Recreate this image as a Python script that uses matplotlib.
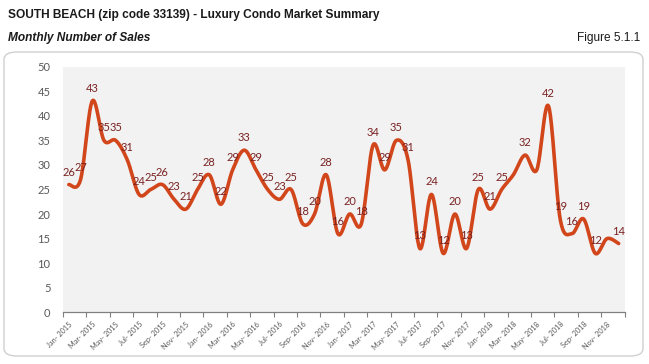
import numpy as np
import matplotlib
matplotlib.use("Agg")
import matplotlib.pyplot as plt
from matplotlib.patches import FancyBboxPatch

# ---- data ----
months = ["Jan", "Feb", "Mar", "Apr", "May", "Jun", "Jul", "Aug", "Sep", "Oct", "Nov", "Dec"]
years = [2015, 2016, 2017, 2018]
sales = [26, 27, 43, 35, 35, 31, 24, 25, 26, 23, 21, 25,
         28, 22, 29, 33, 29, 25, 23, 25, 18, 20, 28, 16,
         20, 18, 34, 29, 35, 31, 13, 24, 12, 20, 13, 25,
         21, 25, 28, 32, 29, 42, 19, 16, 19, 12, 15, 14]
hidden_labels = [38, 40, 46]
yticks = [0, 5, 10, 15, 20, 25, 30, 35, 40, 45, 50]

categories = [f"{m}- {y}" for y in years for m in months]

LINE = "#d2461c"
LBL = "#7a2222"
GRAY = "#595959"
TFONT = ["Liberation Sans", "DejaVu Sans"]

fig = plt.figure(figsize=(6.49, 3.64), dpi=100)
W, H = 649, 364

# outer rounded frame
frame = FancyBboxPatch((4 / W, 8 / H), 639 / W, 304 / H,
                       boxstyle="round,pad=0,rounding_size=0.02",
                       transform=fig.transFigure, facecolor="white",
                       edgecolor="#d0d0d0", linewidth=1.0, zorder=-5)
fig.patches.append(frame)

fig.text(8 / W, 1 - 15 / H, "SOUTH BEACH (zip code 33139) - Luxury Condo Market Summary",
         family=TFONT, fontweight="bold", fontstretch="condensed",
         fontsize=8.6, va="center", ha="left", color="#1a1a1a")
fig.text(8 / W, 1 - 38 / H, "Monthly Number of Sales",
         family=TFONT, fontweight="bold",
         fontstyle="italic", fontsize=8.6, va="center", ha="left", color="#1a1a1a")
fig.text(640 / W, 1 - 38 / H, "Figure 5.1.1",
         family=TFONT, fontsize=8.6, va="center", ha="right", color="#1a1a1a")

ax = fig.add_axes([63 / W, 1 - 312.3 / H, 561.5 / W, 245.6 / H], zorder=2)
ax.set_facecolor("#f2f2f2")

n = len(sales)
x = np.arange(n, dtype=float)
y = np.array(sales, dtype=float)

# Catmull-Rom style smoothing (visual only, passes through all data points)
P = np.column_stack([x, y])
Pext = np.vstack([P[0], P, P[-1]])
curve = []
for i in range(n - 1):
    p0, p1, p2, p3 = Pext[i], Pext[i + 1], Pext[i + 2], Pext[i + 3]
    c1 = p1 + (p2 - p0) / 6.0
    c2 = p2 - (p3 - p1) / 6.0
    t = np.linspace(0, 1, 25)[:, None]
    seg = ((1 - t) ** 3) * p1 + 3 * ((1 - t) ** 2) * t * c1 + 3 * (1 - t) * t ** 2 * c2 + t ** 3 * p2
    curve.append(seg if i == 0 else seg[1:])
curve = np.vstack(curve)
ax.plot(curve[:, 0], curve[:, 1], color=LINE, linewidth=2.6, solid_capstyle="round", zorder=3)

for i, v in enumerate(sales):
    if i in hidden_labels:
        continue
    ax.annotate(str(v), (x[i], v), xytext=(0, 5), textcoords="offset points",
                ha="center", va="bottom", fontsize=8, color=LBL,
                family=["Lato", "DejaVu Sans"], zorder=4)

ax.set_xlim(-0.5, n - 0.5)
ax.set_ylim(0, 50)
ax.set_yticks(yticks)
ax.set_yticklabels([str(t) for t in yticks], fontsize=8, color=GRAY,
                   family=["Lato", "DejaVu Sans"])
ax.tick_params(axis="y", length=0, pad=9)

label_pos = np.arange(0, n, 2)
ax.set_xticks(label_pos)
ax.set_xticklabels([categories[i] for i in label_pos], rotation=45, ha="right",
                   rotation_mode="anchor", fontsize=5.3, color=GRAY,
                   family=["Lato", "DejaVu Sans"])
ax.tick_params(axis="x", which="major", length=0, pad=6)
ax.set_xticks(np.arange(-0.5, n, 2), minor=True)
ax.tick_params(axis="x", which="minor", length=3.5, width=0.8, color="#808080", direction="out")

for s in ["top", "right", "left"]:
    ax.spines[s].set_visible(False)
ax.spines["bottom"].set_color("#808080")
ax.spines["bottom"].set_linewidth(0.9)

fig.savefig("out.png", dpi=100)
